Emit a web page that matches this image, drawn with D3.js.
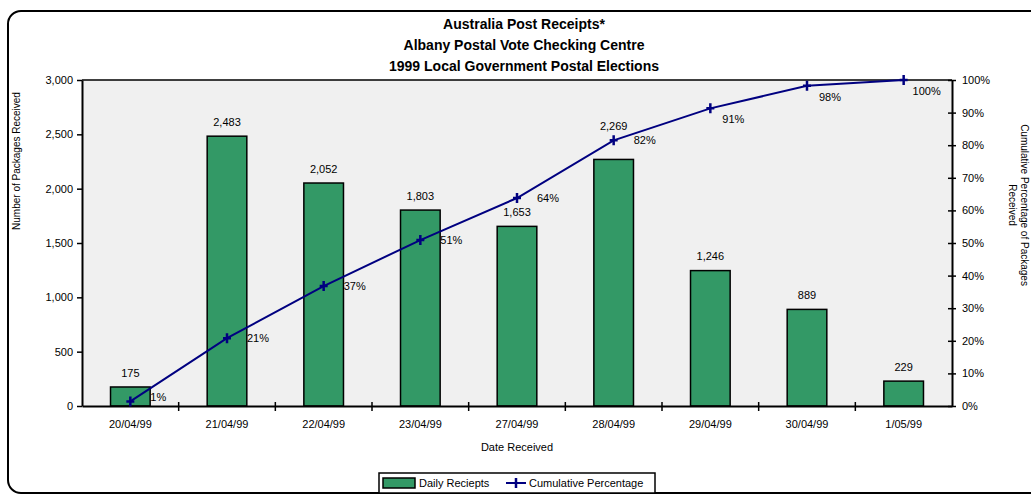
<!DOCTYPE html>
<html>
<head>
<meta charset="utf-8">
<script src="https://cdn.jsdelivr.net/npm/d3@7"></script>
<style>
  body { margin: 0; background: #fff; }
  text { font-family: "Liberation Sans", Arial, sans-serif; fill: #000; }
</style>
</head>
<body>
<div id="chart"></div>
<script>
// Dates on the x axis
const dates = ["20/04/99", "21/04/99", "22/04/99", "23/04/99", "27/04/99", "28/04/99", "29/04/99", "30/04/99", "1/05/99"];
// Daily receipts (bars)
const dailyReceipts = [175, 2483, 2052, 1803, 1653, 2269, 1246, 889, 229];
// Cumulative percentage (line)
const cumulativePct = [1.4, 20.8, 36.8, 50.9, 63.8, 81.5, 91.3, 98.2, 100];
// Tick values
const leftTicks = [0, 500, 1000, 1500, 2000, 2500, 3000];
const rightTicks = [0, 10, 20, 30, 40, 50, 60, 70, 80, 90, 100];

const titleLines = ["Australia Post Receipts*", "Albany Postal Vote Checking Centre", "1999 Local Government Postal Elections"];

const W = 1031, H = 495;
const plot = {left: 82, right: 952, top: 80, bottom: 406};
const barGreen = "#339966", lineBlue = "#000080";
const fontFamily = "'Liberation Sans', Arial, sans-serif";

const svg = d3.select("#chart").append("svg")
    .attr("width", W)
    .attr("height", H);

// Outer rounded frame (runs off the right edge)
svg.append("rect")
    .attr("x", 8).attr("y", 11)
    .attr("width", 1050).attr("height", 482)
    .attr("rx", 13).attr("ry", 13)
    .attr("fill", "#fff")
    .attr("stroke", "#000")
    .attr("stroke-width", 2);

// Plot background
svg.append("rect")
    .attr("x", plot.left).attr("y", plot.top)
    .attr("width", plot.right - plot.left).attr("height", plot.bottom - plot.top)
    .attr("fill", "#f0f0f0");

// Scales
const x = d3.scaleBand()
    .domain(dates)
    .range([plot.left, plot.right])
    .padding(0);

const y = d3.scaleLinear()
    .domain([0, 3000])
    .range([plot.bottom, plot.top]);

const y2 = d3.scaleLinear()
    .domain([0, 100])
    .range([plot.bottom, plot.top]);

const cx = i => x(dates[i]) + x.bandwidth() / 2;
const barW = x.bandwidth() * 0.41;

// Bars
svg.selectAll(".bar")
    .data(dailyReceipts)
    .join("rect")
        .attr("class", "bar")
        .attr("x", (d, i) => cx(i) - barW / 2)
        .attr("y", d => y(d))
        .attr("width", barW)
        .attr("height", d => y(0) - y(d))
        .attr("fill", barGreen)
        .attr("stroke", "#000")
        .attr("stroke-width", 1.5);

// Bar value labels (pushed up when they would sit on the line marker)
svg.selectAll(".bar-label")
    .data(dailyReceipts)
    .join("text")
        .attr("class", "bar-label")
        .attr("x", (d, i) => cx(i))
        .attr("y", (d, i) => {
            let ly = y(d) - 14;
            const py = y2(cumulativePct[i]);
            if (Math.abs(ly - py) < 12) ly = py - 14;
            return ly;
        })
        .attr("dy", "0.35em")
        .attr("text-anchor", "middle")
        .style("font-size", "11px")
        .text(d => d3.format(",")(d));

// Top border of plot
svg.append("line")
    .attr("x1", plot.left).attr("x2", plot.right)
    .attr("y1", plot.top).attr("y2", plot.top)
    .attr("stroke", "#000").attr("stroke-width", 1.5);

// Left axis
const leftAxis = svg.append("g")
    .attr("transform", `translate(${plot.left},0)`)
    .call(d3.axisLeft(y).tickValues(leftTicks).tickFormat(d3.format(",")).tickSizeInner(5).tickSizeOuter(0).tickPadding(4));
leftAxis.select(".domain").attr("stroke-width", 2);
leftAxis.selectAll(".tick line").attr("stroke-width", 1.5);
leftAxis.selectAll("text").style("font-size", "11px").style("font-family", fontFamily);

// Right axis (cross ticks)
const rightAxis = svg.append("g")
    .attr("transform", `translate(${plot.right},0)`)
    .call(d3.axisRight(y2).tickValues(rightTicks).tickFormat(d => d + "%").tickSizeInner(4).tickSizeOuter(0).tickPadding(6));
rightAxis.select(".domain").attr("stroke-width", 2);
rightAxis.selectAll(".tick line").attr("x1", -4).attr("stroke-width", 1.5);
rightAxis.selectAll("text").style("font-size", "11px").style("font-family", fontFamily);

// Bottom axis: labels centred under bands, ticks between bands
const bottomAxis = svg.append("g")
    .attr("transform", `translate(0,${plot.bottom})`)
    .call(d3.axisBottom(x).tickSize(0).tickPadding(14));
bottomAxis.select(".domain").attr("stroke-width", 2);
bottomAxis.selectAll("text").style("font-size", "11px").style("font-family", fontFamily);

svg.selectAll(".xtick")
    .data(dates.slice(0, -1))
    .join("line")
        .attr("class", "xtick")
        .attr("x1", d => x(d) + x.bandwidth())
        .attr("x2", d => x(d) + x.bandwidth())
        .attr("y1", plot.bottom - 4)
        .attr("y2", plot.bottom + 5)
        .attr("stroke", "#000")
        .attr("stroke-width", 1.5);

// Cumulative line
const line = d3.line()
    .x((d, i) => cx(i))
    .y(d => y2(d));

svg.append("path")
    .datum(cumulativePct)
    .attr("fill", "none")
    .attr("stroke", lineBlue)
    .attr("stroke-width", 2)
    .attr("d", line);

// Plus markers
svg.selectAll(".marker")
    .data(cumulativePct)
    .join("path")
        .attr("class", "marker")
        .attr("transform", (d, i) => `translate(${cx(i)},${y2(d)})`)
        .attr("d", "M0,-5V5M-4,0H4")
        .attr("stroke", lineBlue)
        .attr("stroke-width", 2.5);

// Percentage labels: right of the point, or below-right near the top
svg.selectAll(".pct-label")
    .data(cumulativePct)
    .join("text")
        .attr("class", "pct-label")
        .attr("x", (d, i) => d > 90 ? cx(i) + 23 : cx(i) + 20)
        .attr("y", d => d > 90 ? y2(d) + 11 : Math.min(y2(d), plot.bottom - 9))
        .attr("dy", "0.35em")
        .attr("text-anchor", d => d > 90 ? "middle" : "start")
        .style("font-size", "11px")
        .text(d => Math.round(d) + "%");

// Title
svg.selectAll(".title")
    .data(titleLines)
    .join("text")
        .attr("class", "title")
        .attr("x", 524)
        .attr("y", (d, i) => 29 + i * 21)
        .attr("text-anchor", "middle")
        .style("font-size", "14px")
        .style("font-weight", "bold")
        .text(d => d);

// Axis titles
svg.append("text")
    .attr("transform", "translate(20,161) rotate(-90)")
    .attr("text-anchor", "middle")
    .style("font-size", "10px")
    .text("Number of Packages Received");

const rightTitle = svg.append("text")
    .attr("transform", "translate(1021,205) rotate(90)")
    .attr("text-anchor", "middle")
    .style("font-size", "10px");
rightTitle.append("tspan").attr("x", 0).attr("dy", 0).text("Cumulative Percentage of Packages");
rightTitle.append("tspan").attr("x", 0).attr("dy", "1.2em").text("Received");

svg.append("text")
    .attr("x", 517)
    .attr("y", 451)
    .attr("text-anchor", "middle")
    .style("font-size", "11px")
    .text("Date Received");

// Legend
const legend = svg.append("g");
legend.append("rect")
    .attr("x", 379).attr("y", 473)
    .attr("width", 276).attr("height", 20)
    .attr("fill", "#fff")
    .attr("stroke", "#000")
    .attr("stroke-width", 1.5);
legend.append("rect")
    .attr("x", 383).attr("y", 478)
    .attr("width", 32).attr("height", 10)
    .attr("fill", barGreen)
    .attr("stroke", "#000")
    .attr("stroke-width", 1.5);
legend.append("text")
    .attr("x", 419).attr("y", 487)
    .style("font-size", "11px")
    .text("Daily Reciepts");
legend.append("line")
    .attr("x1", 506).attr("x2", 526)
    .attr("y1", 483).attr("y2", 483)
    .attr("stroke", lineBlue).attr("stroke-width", 2);
legend.append("path")
    .attr("transform", "translate(516,483)")
    .attr("d", "M0,-5V5")
    .attr("stroke", lineBlue).attr("stroke-width", 2.5);
legend.append("text")
    .attr("x", 529).attr("y", 487)
    .style("font-size", "11px")
    .text("Cumulative Percentage");
</script>
</body>
</html>
